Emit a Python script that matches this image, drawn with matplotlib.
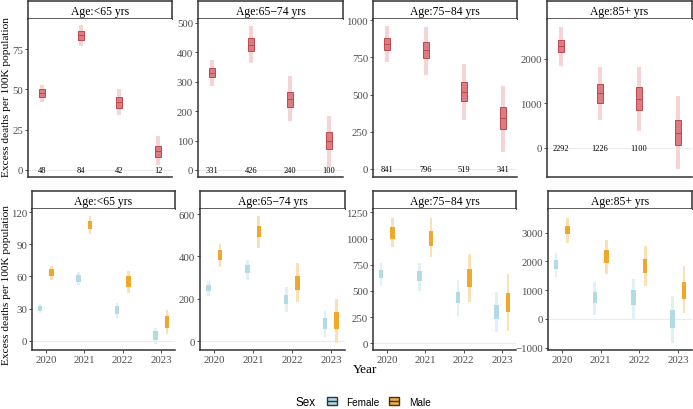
import matplotlib
matplotlib.use("Agg")
import matplotlib.pyplot as plt
from matplotlib.patches import Patch
from matplotlib.legend_handler import HandlerPatch
from matplotlib.offsetbox import HPacker
import matplotlib.patches as mpatches

plt.rcParams['font.family'] = ['Liberation Serif', 'DejaVu Serif']

ages = ["Age:<65 yrs", "Age:65\u221274 yrs", "Age:75\u221284 yrs", "Age:85+ yrs"]
years = ["2020", "2021", "2022", "2023"]

# top row: overall excess deaths (median, 50% box, 95% interval)
tot_mid = [[48, 84, 42, 12], [331, 426, 240, 100], [841, 796, 519, 341], [2292, 1226, 1100, 330]]
tot_lo50 = [[45.5, 81, 38.5, 8], [315, 405, 215, 72], [800, 745, 455, 270], [2150, 1010, 860, 60]]
tot_hi50 = [[50, 86.5, 45.5, 15], [345, 448, 265, 128], [880, 855, 585, 415], [2420, 1430, 1360, 620]]
tot_lo95 = [[42, 77, 34, 3], [285, 365, 165, 10], [720, 630, 330, 115], [1850, 620, 370, -470]]
tot_hi95 = [[53, 90, 50, 21], [372, 490, 318, 185], [960, 950, 705, 555], [2720, 1820, 1820, 1160]]
tot_labels = [["48", "84", "42", "12"], ["331", "426", "240", "100"],
              ["841", "796", "519", "341"], ["2292", "1226", "1100", ""]]
top_ylim = [(-4.4, 93.8), (-24, 513), (-54, 1007), (-657, 2900)]
top_yticks = [[0, 25, 50, 75], [0, 100, 200, 300, 400, 500], [0, 250, 500, 750, 1000], [0, 1000, 2000]]

# bottom row: by sex
fem_mid = [[30, 58, 28, 5], [250, 340, 195, 90], [660, 640, 440, 300], [1900, 750, 750, 0]]
fem_lo50 = [[28, 55, 25, 1], [235, 320, 175, 60], [620, 590, 380, 230], [1750, 550, 500, -300]]
fem_hi50 = [[32, 61, 32, 9], [265, 360, 220, 110], [700, 690, 490, 370], [2050, 950, 1000, 300]]
fem_lo95 = [[26, 52, 21, -3], [215, 290, 140, 20], [560, 500, 260, 110], [1450, 150, 0, -850]]
fem_hi95 = [[34, 64, 35, 12], [285, 385, 255, 150], [770, 770, 600, 490], [2300, 1300, 1400, 800]]
male_mid = [[64, 108, 55, 18], [410, 515, 275, 100], [1050, 1000, 620, 390], [3100, 2150, 1850, 1000]]
male_lo50 = [[60, 104, 50, 12], [385, 490, 240, 60], [1000, 930, 540, 300], [2950, 1950, 1600, 700]]
male_hi50 = [[67, 112, 60, 23], [430, 545, 310, 140], [1110, 1070, 710, 480], [3250, 2400, 2100, 1300]]
male_lo95 = [[57, 100, 45, 6], [350, 440, 185, -10], [920, 820, 390, 120], [2650, 1550, 1150, 200]]
male_hi95 = [[70, 116, 65, 29], [460, 590, 370, 200], [1200, 1200, 850, 660], [3500, 2750, 2550, 1850]]
bot_ylim = [(-8.6, 122.9), (-41, 624), (-64, 1282), (-1078, 3824)]
bot_yticks = [[0, 30, 60, 90, 120], [0, 200, 400, 600], [0, 250, 500, 750, 1000, 1250],
              [-1000, 0, 1000, 2000, 3000]]

W, H = 693, 410
fig = plt.figure(figsize=(W / 100, H / 100), dpi=100)


def px(l, t, r, b):
    return [l / W, 1 - b / H, (r - l) / W, (b - t) / H]


def strip(l, t, r, b, title):
    s = fig.add_axes(px(l, t, r, b))
    s.set_xticks([]); s.set_yticks([])
    for sp in s.spines.values():
        sp.set_linewidth(1.1)
        sp.set_color("#333333")
    s.text(0.5, 0.46, title, ha="center", va="center", fontsize=8.4, transform=s.transAxes)


def style(ax):
    for k in ["top", "right"]:
        ax.spines[k].set_visible(False)
    for k in ["left", "bottom"]:
        ax.spines[k].set_linewidth(1.1)
        ax.spines[k].set_color("#333333")
    ax.tick_params(labelsize=7.8, colors="#333333", labelcolor="#4d4d4d", length=2, width=0.6, pad=1.5)
    ax.axhline(0, color="#ebebeb", lw=0.8, zorder=0)
    ax.set_xlim(-0.36, 3.36)


xs = list(range(len(years)))
top_cols = [(28, 172), (198, 343), (373, 517), (547, 692)]
bot_cols = [(32, 175), (200, 345), (373, 516), (548, 692)]

for i in range(4):
    l, r = top_cols[i]
    strip(l, 2, r, 20, ages[i])
    ax = fig.add_axes(px(l, 20, r, 178))
    style(ax)
    ax.set_xticks([])
    ax.bar(xs, [h - lo for lo, h in zip(tot_lo95[i], tot_hi95[i])], bottom=tot_lo95[i],
           width=0.11, color="#f6d3d4", zorder=2)
    ax.bar(xs, [h - lo for lo, h in zip(tot_lo50[i], tot_hi50[i])], bottom=tot_lo50[i],
           width=0.16, color="#dc7c80", edgecolor="#c0474f", linewidth=0.7, zorder=3)
    for x, m in zip(xs, tot_mid[i]):
        ax.plot([x - 0.08, x + 0.08], [m, m], color="#c0474f", lw=0.7, zorder=4)
    for x, t in zip(xs, tot_labels[i]):
        ax.text(x, 0, t, ha="center", va="center", fontsize=6, zorder=5)
    ax.set_ylim(top_ylim[i])
    ax.set_yticks(top_yticks[i])

off = 0.15
for i in range(4):
    l, r = bot_cols[i]
    strip(l, 192, r, 210, ages[i])
    ax = fig.add_axes(px(l, 210, r, 351))
    style(ax)
    xf = [x - off for x in xs]
    xm = [x + off for x in xs]
    ax.bar(xf, [h - lo for lo, h in zip(fem_lo95[i], fem_hi95[i])], bottom=fem_lo95[i],
           width=0.07, color="#e0f0f5", zorder=2)
    ax.bar(xf, [h - lo for lo, h in zip(fem_lo50[i], fem_hi50[i])], bottom=fem_lo50[i],
           width=0.12, color="#b3dbe7", zorder=3)
    ax.bar(xm, [h - lo for lo, h in zip(male_lo95[i], male_hi95[i])], bottom=male_lo95[i],
           width=0.07, color="#fbe0b3", zorder=2)
    ax.bar(xm, [h - lo for lo, h in zip(male_lo50[i], male_hi50[i])], bottom=male_lo50[i],
           width=0.12, color="#f0a82c", zorder=3)
    ax.set_xticks(xs)
    ax.set_xticklabels(years)
    ax.set_ylim(bot_ylim[i])
    ax.set_yticks(bot_yticks[i])

ylab = "Excess deaths per 100K population"
fig.text(7 / W, 1 - 97 / H, ylab, rotation=90, ha="center", va="center", fontsize=8.2)
fig.text(7 / W, 1 - 285 / H, ylab, rotation=90, ha="center", va="center", fontsize=8.2)
fig.text(365 / W, 1 - 370 / H, "Year", ha="center", va="center", fontsize=9.5)


class BoxKey(HandlerPatch):
    def create_artists(self, legend, orig, xd, yd, w, h, fs, trans):
        r = mpatches.Rectangle((xd, yd), w, h, facecolor=orig.get_facecolor(),
                               edgecolor="#333333", lw=1.0, transform=trans)
        ln = mpatches.Rectangle((xd, yd + h / 2), w, 0, edgecolor="#333333", lw=1.0,
                                transform=trans)
        return [r, ln]


handles = [Patch(facecolor="#add8e6", label="Female"), Patch(facecolor="#f5ae3a", label="Male")]
leg = fig.legend(handles=handles, loc="center", bbox_to_anchor=(363 / W, 1 - 403 / H), ncol=2,
                 frameon=False, title="Sex", handler_map={Patch: BoxKey()},
                 prop={"family": "Liberation Sans", "size": 7.2}, handlelength=1.0, handleheight=0.8,
                 handletextpad=1.0, columnspacing=0.9, borderpad=0)
leg.get_title().set_family("Liberation Sans")
leg.get_title().set_fontsize(8.4)
# put the title to the left of the keys
box = leg._legend_box
box.__class__ = HPacker
box.sep = 8
box.align = "center"

fig.savefig("out.png", dpi=100)
